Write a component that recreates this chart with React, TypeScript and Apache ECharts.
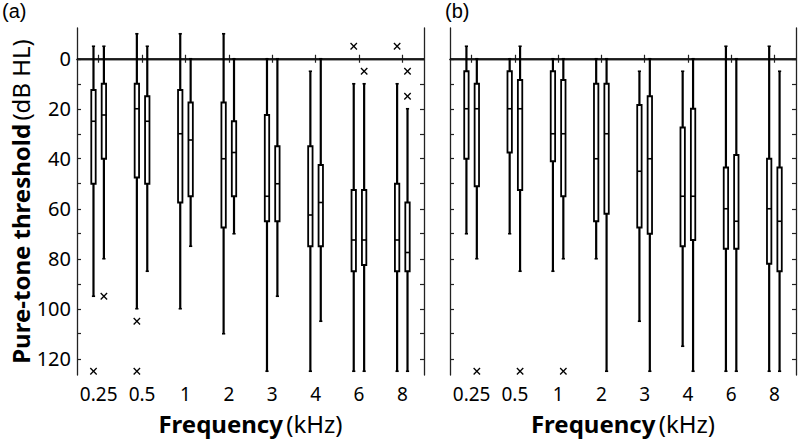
import React, { useEffect, useRef } from "react";
import * as echarts from "echarts";

const categories = ["0.25", "0.5", "1", "2", "3", "4", "6", "8"];

// Each row: [lower whisker, Q1, median, Q3, upper whisker] in dB HL
const panelALeft = [
  [-5, 12.5, 25, 50, 95],
  [-10, 10, 20, 47.5, 100],
  [-10, 12.5, 30, 57.5, 100],
  [-10, 17.5, 40, 67.5, 110],
  [0, 22.5, 55, 65, 125],
  [5, 35, 62.5, 75, 125],
  [10, 52.5, 72.5, 85, 125],
  [10, 50, 72.5, 85, 125],
];
const panelARight = [
  [-5, 10, 22.5, 40, 80],
  [-5, 15, 25, 50, 85],
  [0, 17.5, 32.5, 55, 75],
  [0, 25, 37.5, 55, 70],
  [0, 35, 50, 65, 95],
  [0, 42.5, 57.5, 75, 105],
  [10, 52.5, 72.5, 82.5, 125],
  [20, 57.5, 77.5, 85, 125],
];
const panelBLeft = [
  [-5, 5, 20, 40, 70],
  [0, 5, 20, 37.5, 70],
  [0, 5, 30, 41, 85],
  [0, 10, 40, 65, 80],
  [5, 18.5, 45, 67.5, 105],
  [5, 27.5, 55, 75, 115],
  [-5, 43.5, 60, 76, 125],
  [-5, 40, 60, 82, 125],
];
const panelBRight = [
  [0, 10, 20, 51, 80],
  [-5, 8.5, 20, 52.5, 85],
  [0, 8.5, 30, 55, 80],
  [0, 10, 30, 62, 125],
  [0, 15, 40, 70, 125],
  [0, 20, 55, 72.5, 125],
  [0, 38.5, 65, 76, 125],
  [5, 43.5, 65, 85, 125],
];
// Outliers: [category index, value]
const panelAOutLeft = [[0, 125], [1, 105], [1, 125], [6, -5], [7, -5]];
const panelAOutRight = [[0, 95], [6, 5], [7, 5], [7, 15]];
const panelBOutLeft: number[][] = [];
const panelBOutRight = [[0, 125], [1, 125], [2, 125]];

const yTickValues = [0, 10, 20, 30, 40, 50, 60, 70, 80, 90, 100, 110, 120];
const yLabelValues = [0, 20, 40, 60, 80, 100, 120];

const FONT = "Noto Sans";
const OFFSET = 5.2;
const HALF_BOX = 2.2;

function boxRender(side: number) {
  return (params: any, api: any) => {
    const cat = api.value(0);
    const ys = [1, 2, 3, 4, 5].map((i) => api.coord([cat, api.value(i)])[1]);
    const cx = api.coord([cat, 0])[0] + side * OFFSET;
    const lw = { stroke: "#000", lineWidth: 2.2 };
    return {
      type: "group",
      children: [
        { type: "line", shape: { x1: cx, y1: ys[0], x2: cx, y2: ys[4] }, style: lw },
        { type: "line", shape: { x1: cx - 1.6, y1: ys[0], x2: cx + 1.6, y2: ys[0] }, style: { stroke: "#000", lineWidth: 1.6 } },
        { type: "line", shape: { x1: cx - 1.6, y1: ys[4], x2: cx + 1.6, y2: ys[4] }, style: { stroke: "#000", lineWidth: 1.6 } },
        {
          type: "rect",
          shape: { x: cx - HALF_BOX, y: ys[1], width: HALF_BOX * 2, height: ys[3] - ys[1] },
          style: { fill: "#fff", stroke: "#000", lineWidth: 1.8 },
        },
        { type: "line", shape: { x1: cx - HALF_BOX, y1: ys[2], x2: cx + HALF_BOX, y2: ys[2] }, style: { stroke: "#000", lineWidth: 1.6 } },
      ],
    };
  };
}

function outRender(side: number) {
  return (params: any, api: any) => {
    const p = api.coord([api.value(0), api.value(1)]);
    const cx = p[0] + side * OFFSET;
    const cy = p[1];
    const s = 3.2;
    const st = { stroke: "#000", lineWidth: 1.3 };
    return {
      type: "group",
      children: [
        { type: "line", shape: { x1: cx - s, y1: cy - s, x2: cx + s, y2: cy + s }, style: st },
        { type: "line", shape: { x1: cx - s, y1: cy + s, x2: cx + s, y2: cy - s }, style: st },
      ],
    };
  };
}

function zeroRender(params: any, api: any) {
  const cs = params.coordSys;
  const y = api.coord([0, 0])[1];
  return {
    type: "line",
    shape: { x1: cs.x, y1: y, x2: cs.x + cs.width, y2: y },
    style: { stroke: "#000", lineWidth: 1 },
  };
}

const boxData = (rows: number[][]) => rows.map((r, i) => [i, ...r]);

export default function App() {
  const ref = useRef<HTMLDivElement>(null);
  useEffect(() => {
    if (!ref.current) return;
    const chart = echarts.init(ref.current, undefined, { renderer: "svg" });
    const axisLineStyle = { color: "#222", width: 1.3 };
    const nameRich = {
      b: { fontFamily: FONT, fontWeight: "bold", fontSize: 24, lineHeight: 26, color: "#000" },
      n: { fontFamily: FONT, fontSize: 24, lineHeight: 26, color: "#000" },
    };
    const xAxes: any[] = [];
    const yAxes: any[] = [];
    [0, 1].forEach((g) => {
      xAxes.push({
        type: "category",
        gridIndex: g,
        data: categories,
        position: "bottom",
        axisLine: { show: true, lineStyle: axisLineStyle },
        axisTick: { show: true, inside: true, alignWithLabel: true, interval: 0, length: 4, lineStyle: { color: "#222", width: 1.2 } },
        axisLabel: { color: "#000", fontFamily: FONT, fontSize: 19, lineHeight: 18, margin: 10, interval: 0, hideOverlap: false },
        name: "{b|Frequency} {n|(kHz)}",
        nameLocation: "middle",
        nameGap: 35,
        nameTextStyle: { rich: nameRich },
      });
      xAxes.push({
        type: "category",
        gridIndex: g,
        data: categories,
        position: "top",
        axisLine: { show: true, lineStyle: axisLineStyle },
        axisTick: { show: true, inside: true, alignWithLabel: true, interval: 0, length: 4, lineStyle: { color: "#222", width: 1.2 } },
        axisLabel: { show: false },
      });
      const baseY = {
        type: "value",
        gridIndex: g,
        inverse: true,
        min: -12.3,
        max: 126.5,
        splitLine: { show: false },
        axisLine: { show: true, lineStyle: axisLineStyle },
        axisTick: { show: true, inside: true, length: 4, customValues: yTickValues, lineStyle: { color: "#222", width: 1.2 } },
      };
      yAxes.push({
        ...baseY,
        position: "left",
        axisLabel: {
          show: g === 0,
          customValues: yLabelValues,
          color: "#000",
          fontFamily: FONT,
          fontSize: 20,
          margin: 6,
        },
        name: g === 0 ? "{b|Pure-tone threshold} {n|(dB HL)}" : "",
        nameLocation: "middle",
        nameGap: 44,
        nameRotate: 90,
        nameTextStyle: { rich: nameRich },
      });
      yAxes.push({ ...baseY, position: "right", axisLabel: { show: false } });
    });

    const panels = [
      { l: panelALeft, r: panelARight, ol: panelAOutLeft, or: panelAOutRight },
      { l: panelBLeft, r: panelBRight, ol: panelBOutLeft, or: panelBOutRight },
    ];
    const series: any[] = [];
    panels.forEach((p, g) => {
      const axes = { xAxisIndex: g * 2, yAxisIndex: g * 2 };
      series.push({ type: "custom", ...axes, renderItem: zeroRender, data: [[0, 0]], z: 1, silent: true, clip: false });
      series.push({ type: "custom", ...axes, renderItem: boxRender(-1), data: boxData(p.l), encode: { x: 0, y: [1, 2, 3, 4, 5] }, z: 2 });
      series.push({ type: "custom", ...axes, renderItem: boxRender(1), data: boxData(p.r), encode: { x: 0, y: [1, 2, 3, 4, 5] }, z: 2 });
      series.push({ type: "custom", ...axes, renderItem: outRender(-1), data: p.ol, encode: { x: 0, y: 1 }, z: 3 });
      series.push({ type: "custom", ...axes, renderItem: outRender(1), data: p.or, encode: { x: 0, y: 1 }, z: 3 });
    });

    chart.setOption({
      animation: false,
      backgroundColor: "#fff",
      title: [
        { text: "(a)", left: 2, top: 1, padding: 0, textStyle: { fontFamily: "Liberation Sans", fontWeight: "normal", fontSize: 20, color: "#000" } },
        { text: "(b)", left: 445, top: 1, padding: 0, textStyle: { fontFamily: "Liberation Sans", fontWeight: "normal", fontSize: 20, color: "#000" } },
      ],
      grid: [
        { left: 77, top: 28, width: 347, height: 347 },
        { left: 450, top: 28, width: 346, height: 347 },
      ],
      xAxis: xAxes,
      yAxis: yAxes,
      series,
    });
    return () => chart.dispose();
  }, []);
  return <div ref={ref} style={{ position: "fixed", left: 0, top: 0, width: 800, height: 440 }} />;
}
